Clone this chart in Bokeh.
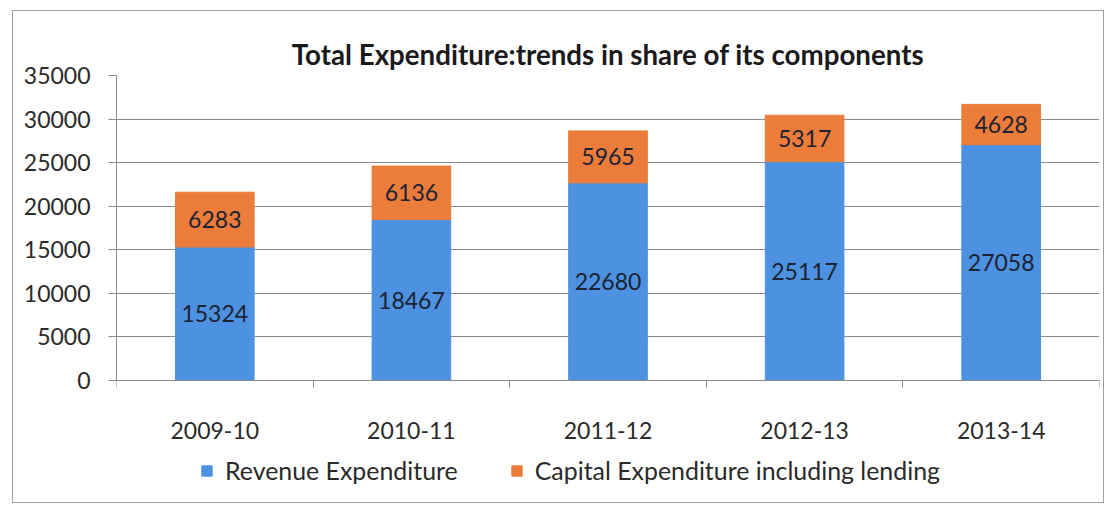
from bokeh.plotting import figure
from bokeh.models import Range1d, FixedTicker, NumeralTickFormatter, Legend, LegendItem, ColumnDataSource, LabelSet
from bokeh.core.properties import value
from bokeh.embed import file_html
from bokeh.resources import INLINE

years = ["2009-10", "2010-11", "2011-12", "2012-13", "2013-14"]
revenue = [15324, 18467, 22680, 25117, 27058]
capital = [6283, 6136, 5965, 5317, 4628]
y_ticks = [0, 5000, 10000, 15000, 20000, 25000, 30000, 35000]
title_text = "Total Expenditure:trends in share of its components"
series_names = ["Revenue Expenditure", "Capital Expenditure including lending"]

FONT = "Lato"
BLUE = "#4d92e0"
ORANGE = "#ec7c3a"
GREY = "#8a8a8a"

n = len(years)
xs = [i + 0.5 for i in range(n)]
tops = [r + c for r, c in zip(revenue, capital)]
src = ColumnDataSource(dict(
    x=xs, rev=revenue, cap=capital, top=tops,
    rev_mid=[r / 2 for r in revenue],
    cap_mid=[r + c / 2 for r, c in zip(revenue, capital)],
    rev_lbl=[str(v) for v in revenue],
    cap_lbl=[str(v) for v in capital],
))

# frame spans down to the bottom so the legend can sit inside it;
# value 0 sits 118px above the frame bottom (305px for 0..35000)
y_max = 35000
y_min = -y_max * 118 / 305

p = figure(width=1092, height=493, x_range=Range1d(0, n), y_range=Range1d(y_min, y_max),
           output_backend="svg", toolbar_location=None,
           min_border_left=103, min_border_right=6, min_border_top=64, min_border_bottom=6)
p.styles = {"border": "1.5px solid #a0a0a0", "margin-left": "12px", "margin-top": "10px"}
p.outline_line_color = None
p.background_fill_color = "white"
p.border_fill_color = "white"

p.title.text = title_text
p.title.align = "center"
p.title.text_font = FONT
p.title.text_font_size = "27.7px"
p.title.text_font_style = "bold"
p.title.text_color = "#1a1a1a"

p.xgrid.grid_line_color = None
p.ygrid.grid_line_color = GREY
p.ygrid.grid_line_width = 1
p.ygrid.ticker = FixedTicker(ticks=y_ticks)

r1 = p.vbar(x="x", bottom=0, top="rev", width=0.4, color=BLUE, source=src)
r2 = p.vbar(x="x", bottom="rev", top="top", width=0.4, color=ORANGE, source=src)

lbl_kw = dict(text_font=value(FONT), text_font_size="23px", text_color="#1b2233",
              text_align="center", text_baseline="middle", source=src)
p.add_layout(LabelSet(x="x", y="rev_mid", text="rev_lbl", **lbl_kw))
p.add_layout(LabelSet(x="x", y="cap_mid", text="cap_lbl", **lbl_kw))

# y axis
ya = p.yaxis[0]
ya.ticker = FixedTicker(ticks=y_ticks)
ya.bounds = (0, y_max)
ya.formatter = NumeralTickFormatter(format="0")
ya.axis_line_color = GREY
ya.major_tick_line_color = GREY
ya.major_tick_in = 0
ya.major_tick_out = 8
ya.minor_tick_line_color = None
ya.major_label_standoff = 18
ya.major_label_text_font = FONT
ya.major_label_text_font_size = "23px"
ya.major_label_text_color = "#2a2a2a"

# x axis, drawn at value 0
xa = p.xaxis[0]
xa.fixed_location = 0
xa.ticker = FixedTicker(ticks=xs, minor_ticks=list(range(n + 1)))
xa.major_label_overrides = {x: y for x, y in zip(xs, years)}
xa.axis_line_color = GREY
xa.major_tick_line_color = None
xa.major_tick_in = 0
xa.major_tick_out = 0
xa.minor_tick_line_color = GREY
xa.minor_tick_in = 0
xa.minor_tick_out = 7
xa.major_label_standoff = 34
xa.major_label_text_font = FONT
xa.major_label_text_font_size = "23px"
xa.major_label_text_color = "#2a2a2a"

legend = Legend(items=[LegendItem(label=series_names[0], renderers=[r1]),
                       LegendItem(label=series_names[1], renderers=[r2])],
                orientation="horizontal", location=(84, 13),
                glyph_width=13, glyph_height=13, label_standoff=12, spacing=52,
                label_text_font=FONT, label_text_font_size="24.9px", label_text_color="#2a2a2a",
                border_line_color=None, background_fill_alpha=0, padding=0, margin=0)
p.add_layout(legend, "center")

open("out.html", "w").write(file_html(p, INLINE))
